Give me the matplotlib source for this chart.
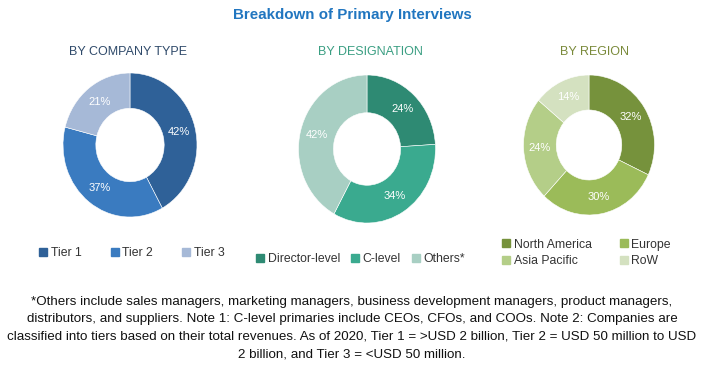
"""Breakdown of primary interviews: three donut charts with legends and a footnote."""

import matplotlib

matplotlib.use("Agg")
import matplotlib.pyplot as plt
from matplotlib.patches import Patch

# --------------------------------------------------------------------------- #
# data
# --------------------------------------------------------------------------- #
company_labels = ["Tier 1", "Tier 2", "Tier 3"]
company_values = [42, 37, 21]
company_colors = ["#2F6198", "#3A7BC0", "#A6B9D7"]

designation_labels = ["Director-level", "C-level", "Others*"]
designation_values = [24, 34, 42]
designation_colors = ["#2E8A73", "#3AAA8F", "#A8CFC3"]

region_labels = ["North America", "Europe", "Asia Pacific", "RoW"]
region_values = [32, 30, 24, 14]
region_colors = ["#76923C", "#9BBB59", "#B4CE88", "#D4E1C0"]

title = "Breakdown of Primary Interviews"
subtitles = ["BY COMPANY TYPE", "BY DESIGNATION", "BY REGION"]
subtitle_colors = ["#2F4A6A", "#3A9E82", "#7A8A3A"]

footnote = (
    "*Others include sales managers, marketing managers, business development managers, product managers,\n"
    "distributors, and suppliers. Note 1: C-level primaries include CEOs, CFOs, and COOs. Note 2: Companies are\n"
    "classified into tiers based on their total revenues. As of 2020, Tier 1 = >USD 2 billion, Tier 2 = USD 50 million to USD\n"
    "2 billion, and Tier 3 = <USD 50 million."
)

W, H = 703, 373


def px(x, y):
    """pixel (from top-left) -> figure fraction"""
    return x / W, 1 - y / H


def donut(fig, cx, cy, rx, ry, ring, values, colors):
    ax = fig.add_axes([(cx - rx) / W, (H - cy - ry) / H, 2 * rx / W, 2 * ry / H])
    wedges, _, autotexts = ax.pie(
        values, colors=colors, startangle=90, counterclock=False,
        autopct="%d%%", pctdistance=0.75,
        wedgeprops=dict(width=ring, edgecolor="white", linewidth=0.4),
        textprops=dict(color="white", fontsize=8, family="Liberation Sans"),
    )
    ax.set_aspect("auto")
    ax.set_xlim(-1, 1)
    ax.set_ylim(-1, 1)
    ax.axis("off")
    return wedges


def reorder_rows(items, ncol):
    # matplotlib fills legend columns first; reorder so it reads row by row
    return [items[r * ncol + c] for c in range(ncol) for r in range(len(items) // ncol)]


fig = plt.figure(figsize=(W / 100, H / 100), dpi=100)

fig.text(*px(352, 15), title, ha="center", va="center", color="#2176C0",
         fontsize=10.9, fontweight="bold", family="Liberation Sans")

for (x, y), s, c in zip([(128, 52), (370, 52), (594, 52)], subtitles, subtitle_colors):
    fig.text(*px(x, y), s, ha="center", va="center", color=c, fontsize=9,
             family="Liberation Sans", fontweight="medium")

donut(fig, 130, 145, 67, 72, 0.49, company_values, company_colors)
donut(fig, 367, 149, 68.5, 74, 0.51, designation_values, designation_colors)
donut(fig, 589, 145, 65.5, 70, 0.50, region_values, region_colors)

leg_kw = dict(frameon=False, handlelength=0.65, handleheight=0.65, handletextpad=0.3,
              borderpad=0, borderaxespad=0,
              prop=dict(family="Liberation Sans", size=8.8), labelcolor="#333333")

fig.legend([Patch(color=c) for c in company_colors], company_labels, loc="center left",
           bbox_to_anchor=px(39, 253), ncol=3, columnspacing=2.4, **leg_kw)
fig.legend([Patch(color=c) for c in designation_colors], designation_labels, loc="center left",
           bbox_to_anchor=px(256, 259), ncol=3, columnspacing=0.9, **leg_kw)
fig.legend(reorder_rows([Patch(color=c) for c in region_colors], 2),
           reorder_rows(region_labels, 2), loc="center left",
           bbox_to_anchor=px(502, 253), ncol=2, columnspacing=2.3, labelspacing=0.4, **leg_kw)

fig.text(*px(352, 328), footnote, ha="center", va="center", color="#111111",
         fontsize=9.6, family="Liberation Sans", linespacing=1.6)

fig.savefig("out.png", dpi=100)
plt.close(fig)
